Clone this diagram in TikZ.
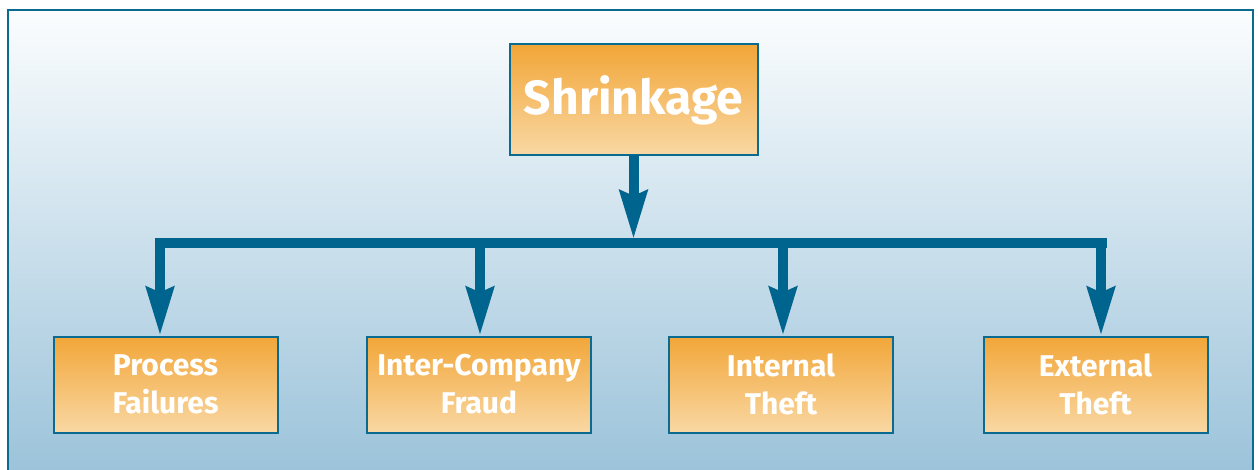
\documentclass[tikz,border=0pt]{standalone}
\usepackage{fontspec}
\setmainfont{Fira Sans}
\usetikzlibrary{arrows.meta}
\definecolor{frameblue}{HTML}{0B6A90}
\definecolor{arrowblue}{HTML}{00658E}
\definecolor{bgtop}{HTML}{FBFDFE}
\definecolor{bgbot}{HTML}{9CC3DA}
\definecolor{boxtop}{HTML}{F2A638}
\definecolor{boxbot}{HTML}{F9D8A4}
\tikzset{
  box/.style={draw=frameblue, line width=2pt, top color=boxtop, bottom color=boxbot,
    text=white, font=\bfseries, align=center, inner sep=0pt},
  smallbox/.style={box, minimum width=224pt, minimum height=96pt,
    font=\fontsize{30}{38}\selectfont\bfseries},
  conn/.style={draw=arrowblue, line width=10pt},
  arr/.style={conn, -{Stealth[width=27pt,length=48pt,inset=5pt]}}
}
\begin{document}
\begin{tikzpicture}[x=1pt,y=-1pt]
\useasboundingbox (0,0) rectangle (1258,470);
\shade[top color=bgtop, bottom color=bgbot] (8,10) rectangle (1253,470);
\draw[frameblue, line width=2.5pt] (8,472) -- (8,10) -- (1253,10) -- (1253,472);
\node[box, minimum width=248pt, minimum height=111pt, font=\fontsize{48}{50}\selectfont\bfseries] (top) at (633.5,100) {Shrinkage};
\node[smallbox] (p1) at (165.5,384.5) {Process\\Failures};
\node[smallbox] (p2) at (479,384.5) {Inter-Company\\Fraud};
\node[smallbox] (p3) at (781,384.5) {Internal\\Theft};
\node[smallbox] (p4) at (1095.5,384.5) {External\\Theft};
\coordinate (barL) at (155,243);
\coordinate (barR) at (1107,243);
\coordinate (hub) at (633.5,239);
\coordinate (b1) at (160,243);
\coordinate (b2) at (480,243);
\coordinate (b3) at (783,243);
\coordinate (b4) at (1101,243);
\draw[arr] (top.south) ++(0,-1) -- (hub);
\draw[conn, line cap=butt] (barL) -- (barR);
\draw[arr] (b1) -- (b1 |- p1.north);
\draw[arr] (b2) -- (b2 |- p2.north);
\draw[arr] (b3) -- (b3 |- p3.north);
\draw[arr] (b4) -- (b4 |- p4.north);
\end{tikzpicture}
\end{document}
